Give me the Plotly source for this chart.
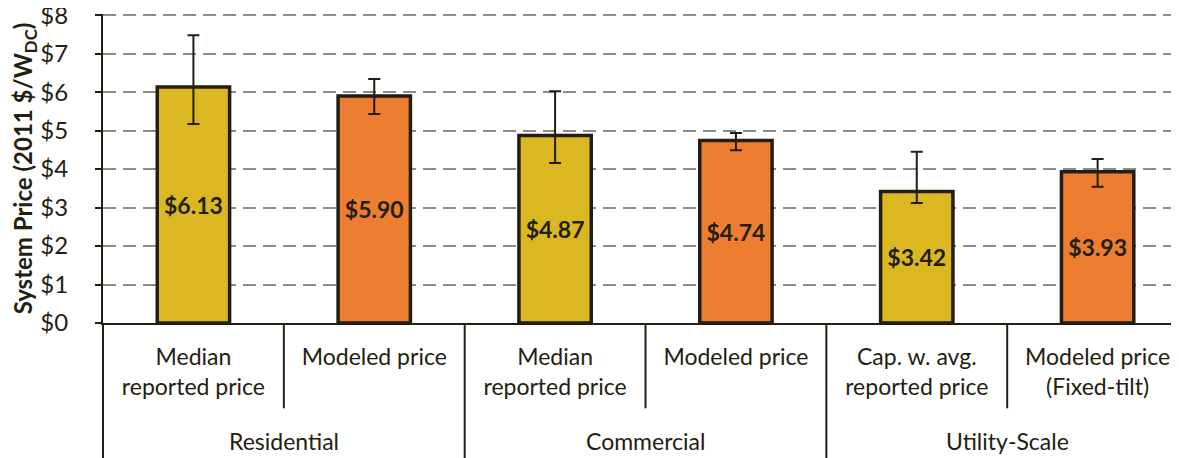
import plotly.graph_objects as go

# Bar labels (bottom tier) and sector groups (top tier)
sub_labels = [
    "Median<br>reported price",
    "Modeled price",
    "Median<br>reported price",
    "Modeled price",
    "Cap. w. avg.<br>reported price",
    "Modeled price<br>(Fixed-tilt)",
]
groups = ["Residential", "Commercial", "Utility-Scale"]

# System prices, 2011 $/W_DC
prices = [6.13, 5.90, 4.87, 4.74, 3.42, 3.93]
err_high = [7.48, 6.34, 6.02, 4.94, 4.45, 4.26]
err_low = [5.17, 5.43, 4.16, 4.49, 3.12, 3.54]

y_ticks = [0, 1, 2, 3, 4, 5, 6, 7, 8]

GOLD = "#DBB722"
ORANGE = "#ED7D31"
INK = "#221E10"
FONT = "Lato"

x_pos = list(range(len(prices)))
colors = [GOLD if i % 2 == 0 else ORANGE for i in x_pos]

fig = go.Figure()
fig.add_trace(
    go.Bar(
        x=x_pos,
        y=prices,
        width=0.4,
        marker={"color": colors, "line": {"color": INK, "width": 3.5}},
        text=[f"${v:.2f}" for v in prices],
        textposition="inside",
        insidetextanchor="middle",
        textangle=0,
        textfont={"family": FONT, "size": 23, "color": INK, "weight": "bold"},
        error_y={
            "type": "data",
            "symmetric": False,
            "array": [h - v for h, v in zip(err_high, prices)],
            "arrayminus": [v - lo for lo, v in zip(err_low, prices)],
            "color": INK,
            "thickness": 2,
            "width": 6,
        },
        hoverinfo="skip",
    )
)

# separators between bars (short) and between sectors (long)
for i in range(len(prices) - 1):
    long_line = i % 2 == 1
    fig.add_shape(
        type="line",
        xref="x",
        yref="paper",
        x0=i + 0.5,
        x1=i + 0.5,
        y0=0,
        y1=-0.45 if long_line else -0.276,
        line={"color": INK, "width": 2},
    )
fig.add_shape(
    type="line", xref="paper", yref="paper",
    x0=0, x1=0, y0=0, y1=-0.45,
    line={"color": INK, "width": 2},
)

for k, g in enumerate(groups):
    fig.add_annotation(
        x=2 * k + 0.5,
        y=-0.383,
        xref="x",
        yref="paper",
        text=g,
        showarrow=False,
        yanchor="middle",
        font={"family": FONT, "size": 23, "color": INK},
    )

# page body has an 8px margin, so the figure is shifted and shrunk by that
fig.update_layout(
    width=1171,
    height=450,
    margin={"l": 95, "r": 0, "t": 6, "b": 135},
    plot_bgcolor="white",
    paper_bgcolor="white",
    showlegend=False,
    font={"family": FONT, "color": INK},
)
fig.update_xaxes(
    range=[-0.5, 5.45],
    tickvals=x_pos,
    ticktext=sub_labels,
    tickfont={"family": FONT, "size": 23, "color": INK},
    ticklabelstandoff=12,
    showline=True,
    linecolor=INK,
    linewidth=2,
    showgrid=False,
    zeroline=False,
    ticks="",
    automargin=False,
)
fig.update_yaxes(
    range=[0, 8.03],
    tickvals=y_ticks,
    ticktext=[f"${t}" for t in y_ticks],
    tickfont={"family": FONT, "size": 24, "color": INK},
    ticks="outside",
    ticklen=6,
    tickwidth=2,
    tickcolor=INK,
    ticklabelstandoff=22,
    ticklabeloverflow="allow",
    showline=True,
    linecolor=INK,
    linewidth=2,
    showgrid=True,
    gridcolor="#8C8C8C",
    gridwidth=2,
    griddash="13px,7px",
    zeroline=False,
    automargin=False,
    title={
        "text": "System Price (2011 $/W<sub>DC</sub>)",
        "font": {"family": FONT, "size": 24, "color": INK, "weight": "bold"},
        "standoff": 6,
    },
)

fig.write_html("out.html")
